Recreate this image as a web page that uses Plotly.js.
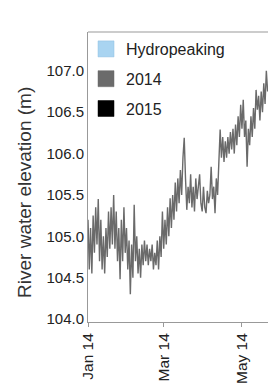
<!DOCTYPE html>
<html>
<head>
<meta charset="utf-8">
<script src="https://cdn.plot.ly/plotly-3.0.1.min.js"></script>
<style>html,body{margin:0;padding:0;background:#fff;}#chart{width:268px;height:383px;}</style>
</head>
<body>
<div id="chart"></div>
<script>
// Daily river water elevation (m), 2014, starting 1 Jan 2014 (one value per day)
const startDate2014 = '2014-01-01';
const elevation2014 = [
  105.2, 104.6, 105.1, 104.55, 105.25, 104.8, 105.35, 104.9, 105.45, 104.7,
  105.2, 104.6, 105.0, 104.55, 105.1, 104.75, 105.3, 104.85, 105.35, 104.9,
  105.5, 104.85, 105.3, 104.7, 105.1, 104.48, 105.2, 104.7, 105.35, 104.8,
  105.1, 104.6, 104.95, 104.3, 104.9, 104.5, 105.38, 104.7, 105.0, 104.55,
  104.85, 104.5, 104.9, 104.65, 104.95, 104.7, 104.9, 104.65, 104.85, 104.7,
  104.9, 104.6, 104.8, 104.65, 104.95, 104.6, 105.0, 104.75, 105.3, 104.85,
  105.2, 104.9, 105.35, 105.0, 105.46, 105.1, 105.5, 105.2, 105.65, 105.3,
  105.7, 105.4, 105.8, 105.5, 105.95, 106.19, 105.7, 105.32, 105.6, 105.4,
  105.75, 105.35, 105.6, 105.3, 105.7, 105.45, 105.6, 105.75, 105.4, 105.3,
  105.6, 105.35, 105.28, 105.55, 105.4, 105.5, 105.84, 105.45, 105.6, 105.28,
  105.7, 105.5, 105.9, 106.29, 105.95, 106.2, 105.9, 106.15, 105.95, 106.2,
  106.0, 106.26, 106.05, 106.3, 106.0, 106.35, 106.1, 106.45, 106.2, 106.59,
  106.3, 106.65, 106.2, 106.4, 105.84, 106.3, 106.1, 106.45, 106.2, 106.55,
  106.3, 106.77, 106.53, 106.7, 106.4, 106.75, 106.5, 106.85, 106.6, 107.0,
  106.75
];
const legendNames = ['Hydropeaking', '2014', '2015'];
const legendColors = ['#a9d4f1', '#6b6b6b', '#000000'];
const yTickVals = [104.0, 104.5, 105.0, 105.5, 106.0, 106.5, 107.0];
const xRange = ['2014-01-01', '2014-05-21 07:00'];
const yRange = [103.964, 107.47];
const yTitle = 'River water elevation (m)';

const FONT = 'Liberation Sans, Arial, sans-serif';

const traces = [{
  type: 'scatter', mode: 'lines',
  x0: startDate2014, dx: 86400000,
  y: elevation2014,
  line: {color: '#6a6a6a', width: 1.4},
  showlegend: false, hoverinfo: 'skip'
}];
legendNames.forEach((n, i) => {
  traces.push({
    type: 'scatter', mode: 'markers',
    x: [null], y: [null], name: n, legendgroup: 'g' + i,
    marker: {symbol: 'square', size: 16, color: legendColors[i],
             line: {color: i === 0 ? '#8fbfe0' : legendColors[i], width: 0.5}},
    showlegend: true
  });
});

const layout = {
  width: 268, height: 383,
  margin: {l: 88, r: 0, t: 32, b: 61, pad: 0},
  paper_bgcolor: '#fff', plot_bgcolor: '#fff',
  font: {family: FONT, color: '#222'},
  showlegend: true,
  legend: {
    x: -0.011, y: 1.0, xanchor: 'left', yanchor: 'top',
    bgcolor: 'rgba(0,0,0,0)', borderwidth: 0,
    font: {family: FONT, size: 16, color: '#222'},
    tracegroupgap: 6, traceorder: 'grouped', itemsizing: 'trace'
  },
  xaxis: {
    type: 'date', range: xRange,
    dtick: 'M2', tick0: '2014-01-01', tickformat: '%b %y',
    tickangle: -90, ticks: 'outside', ticklen: 4, tickcolor: '#999',
    showline: true, linecolor: '#999', linewidth: 1,
    showgrid: false, zeroline: false,
    tickfont: {family: FONT, size: 15.5, color: '#222'}
  },
  yaxis: {
    range: yRange, tickvals: yTickVals, tickformat: '.1f',
    ticks: '', showline: true, linecolor: '#999', linewidth: 1,
    showgrid: false, zeroline: false,
    tickfont: {family: FONT, size: 15, color: '#222'}
  },
  annotations: [{
    text: yTitle, xref: 'paper', yref: 'paper', x: 0, y: 0.445,
    xanchor: 'center', yanchor: 'middle', xshift: -63, textangle: -90,
    showarrow: false, font: {family: FONT, size: 19, color: '#333'}
  }],
  shapes: [{type: 'line', xref: 'paper', yref: 'paper', x0: 0, x1: 1, y0: 1, y1: 1,
            line: {color: '#999', width: 1}}]
};

Plotly.newPlot('chart', traces, layout, {staticPlot: true, displayModeBar: false});
</script>
</body>
</html>
